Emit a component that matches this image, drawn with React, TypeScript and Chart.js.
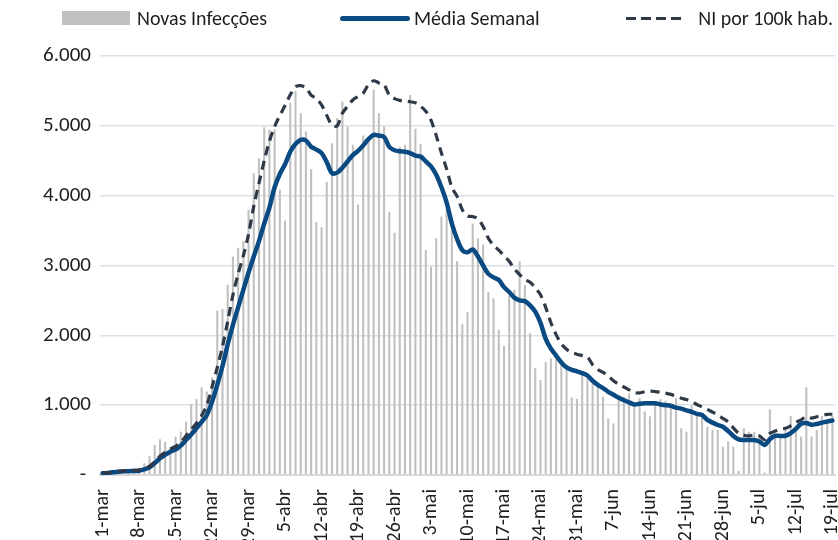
import React, { useEffect, useRef } from 'react';
import { Chart, registerables } from 'chart.js';

Chart.register(...registerables);

// Categories: every day from 1-mar to 19-jul
const meses: [string, number][] = [['mar', 31], ['abr', 30], ['mai', 31], ['jun', 30], ['jul', 19]];
const dias: string[] = meses.flatMap(([m, n]) => Array.from({ length: n }, (_, d) => `${d + 1}-${m}`));

// Novas Infecções (daily bars)
const novasInfeccoes: number[] = [
  5, 0, 12, 18, 8, 25, 40, 45, 167, 272,
  430, 511, 477, 382, 549, 621, 764, 1017, 1089, 1256,
  1194, 1400, 2354, 2378, 2722, 3128, 3252, 3350, 3800, 4322,
  4537, 4981, 4943, 4950, 4083, 3644, 5330, 5500, 5180, 4920,
  4380, 3620, 3550, 4200, 4750, 5110, 5350, 4990, 4730, 3870,
  4860, 4800, 5520, 5180, 4990, 3770, 3470, 4700, 4730, 5440,
  4960, 4740, 3220, 2985, 3390, 3700, 3810, 3510, 3060, 2160,
  2330, 3600, 3390, 3300, 2620, 2530, 2080, 1850, 2570, 2650,
  3060, 2720, 2030, 1530, 1360, 1620, 1670, 1740, 1650, 1530,
  1110, 1090, 1470, 1385, 1310, 1265, 1120, 810, 740, 1150,
  1120, 1170, 1000, 1100, 910, 840, 1000, 1085, 1065, 1030,
  1100, 670, 620, 1000, 860, 835, 690, 645, 645, 405,
  480, 405, 60, 670, 620, 620, 575, 35, 940, 605,
  590, 670, 845, 685, 550, 1255, 550, 645, 845, 790,
  845,
];

// Média Semanal (solid blue line)
const mediaSemanal: number[] = [
  24, 30, 38, 48, 52, 55, 58, 62, 80, 110,
  170, 239, 290, 334, 365, 420, 501, 580, 668, 760,
  860, 1050, 1290, 1560, 1870, 2150, 2400, 2650, 2900, 3130,
  3350, 3600, 3830, 4120, 4310, 4450, 4630, 4740, 4800, 4790,
  4700, 4660, 4610, 4480, 4322, 4330, 4400, 4490, 4580, 4640,
  4720, 4810, 4870, 4860, 4840, 4700, 4650, 4635, 4630, 4610,
  4575, 4560, 4490, 4420, 4300, 4120, 3900, 3600, 3380, 3220,
  3190, 3230, 3130, 3000, 2880, 2830, 2794, 2690, 2620, 2540,
  2500, 2490, 2430, 2340, 2180, 1950, 1810, 1710, 1610, 1540,
  1505, 1485, 1460, 1425, 1350, 1290, 1245, 1190, 1150, 1105,
  1070, 1040, 1010, 1020, 1027, 1027, 1027, 1010, 1000, 990,
  965, 950, 925, 905, 875, 860, 790, 750, 716, 690,
  630, 560, 510, 501, 501, 501, 480, 430, 511, 559,
  560, 562, 600, 660, 735, 745, 720, 731, 750, 765,
  780,
];

// NI por 100k hab. (dashed line, plotted at the chart's visual scale)
const niPor100k: number[] = [
  28, 34, 42, 54, 58, 62, 66, 70, 90, 125,
  190, 268, 325, 375, 410, 470, 560, 650, 740, 850,
  1000, 1260, 1540, 1840, 2200, 2580, 2880, 3140, 3450, 3850,
  4180, 4500, 4780, 4990, 5150, 5290, 5444, 5560, 5575, 5545,
  5440, 5390, 5300, 5150, 5010, 5000, 5180, 5280, 5370, 5420,
  5468, 5590, 5645, 5615, 5587, 5440, 5390, 5365, 5360, 5345,
  5330, 5280, 5210, 5080, 4860, 4610, 4380, 4120, 3990, 3800,
  3710, 3700, 3670, 3560, 3390, 3290, 3220, 3140, 3060, 2950,
  2870, 2800, 2760, 2680, 2580, 2400, 2180, 2010, 1880, 1800,
  1755, 1730, 1710, 1690, 1580, 1510, 1470, 1420, 1350, 1300,
  1260, 1220, 1180, 1175, 1192, 1200, 1195, 1185, 1172, 1155,
  1130, 1100, 1080, 1050, 1010, 975, 940, 900, 860, 810,
  760, 675, 600, 570, 560, 570, 560, 505, 595, 630,
  655, 670, 705, 755, 790, 835, 815, 835, 855, 869,
  870,
];

const yTicks: number[] = [0, 1000, 2000, 3000, 4000, 5000, 6000];
const yTickLabels: string[] = ['- ', '1.000', '2.000', '3.000', '4.000', '5.000', '6.000'];

const FONT = 'Carlito, Lato, "Noto Sans", sans-serif';
const BLUE = '#0a4a82';
const DASH = '#2f3a48';
const GRAY = '#c0c0c0';
const TEXT = '#1e1e1e';

export default function App() {
  const canvasRef = useRef<HTMLCanvasElement | null>(null);

  useEffect(() => {
    const canvas = canvasRef.current;
    if (!canvas) return;
    const chart = new Chart(canvas, {
      type: 'bar',
      data: {
        labels: dias,
        datasets: [
          {
            type: 'line',
            label: 'NI por 100k hab.',
            data: niPor100k,
            borderColor: DASH,
            borderWidth: 3.2,
            borderDash: [9, 6],
            pointRadius: 0,
            tension: 0.3,
            order: 0,
          } as any,
          {
            type: 'line',
            label: 'Média Semanal',
            data: mediaSemanal,
            borderColor: BLUE,
            borderWidth: 4.5,
            pointRadius: 0,
            tension: 0.3,
            borderCapStyle: 'round',
            borderJoinStyle: 'round',
            order: 1,
          } as any,
          {
            type: 'bar',
            label: 'Novas Infecções',
            data: novasInfeccoes,
            backgroundColor: GRAY,
            barPercentage: 1,
            categoryPercentage: 0.4,
            order: 2,
          },
        ],
      },
      options: {
        responsive: false,
        maintainAspectRatio: false,
        animation: false,
        layout: { padding: { top: 56, right: 3, left: 0, bottom: 0 } },
        plugins: {
          legend: { display: false },
          tooltip: { enabled: false },
        },
        scales: {
          x: {
            grid: { display: false, drawTicks: false },
            border: { display: true, color: '#d9d9d9', width: 2 },
            ticks: {
              autoSkip: false,
              minRotation: 90,
              maxRotation: 90,
              padding: 14,
              color: TEXT,
              font: { family: FONT, size: 20 },
              callback: (_v: any, i: number) => (i % 7 === 0 ? dias[i] : null),
            },
            afterFit: (s: any) => {
              s.height = 65;
              s.paddingLeft = 0;
              s.paddingRight = 0;
            },
          },
          y: {
            min: 0,
            max: 6000,
            afterBuildTicks: (s: any) => {
              s.ticks = yTicks.map((v) => ({ value: v }));
            },
            ticks: {
              padding: 9,
              color: TEXT,
              font: { family: FONT, size: 21 },
              callback: (v: any) => yTickLabels[yTicks.indexOf(Number(v))] ?? '',
            },
            grid: { color: '#dbe0e6', lineWidth: 1.5, drawTicks: false },
            border: { display: false },
            afterFit: (s: any) => {
              s.width = 100;
            },
          },
        },
      },
    });
    return () => chart.destroy();
  }, []);

  const legendText: React.CSSProperties = {
    position: 'absolute',
    top: 6,
    fontFamily: FONT,
    fontSize: 20,
    lineHeight: '24px',
    color: TEXT,
    whiteSpace: 'nowrap',
  };

  return (
    <div
      style={{
        position: 'fixed',
        left: 0,
        top: 0,
        width: 838,
        height: 540,
        overflow: 'hidden',
        background: '#ffffff',
      }}
    >
      <canvas ref={canvasRef} width={838} height={540} style={{ position: 'absolute', left: 0, top: 0 }} />
      <div style={{ position: 'absolute', left: 62, top: 11, width: 68, height: 14, background: GRAY }} />
      <div style={{ ...legendText, left: 137 }}>Novas Infecções</div>
      <div style={{ position: 'absolute', left: 340, top: 16, width: 70, height: 5, borderRadius: 3, background: BLUE }} />
      <div style={{ ...legendText, left: 414 }}>Média Semanal</div>
      <div
        style={{
          position: 'absolute',
          left: 626,
          top: 17,
          width: 56,
          height: 3,
          background: `repeating-linear-gradient(to right, ${DASH} 0 10px, transparent 10px 15px)`,
        }}
      />
      <div style={{ ...legendText, right: 5 }}>NI por 100k hab.</div>
    </div>
  );
}
